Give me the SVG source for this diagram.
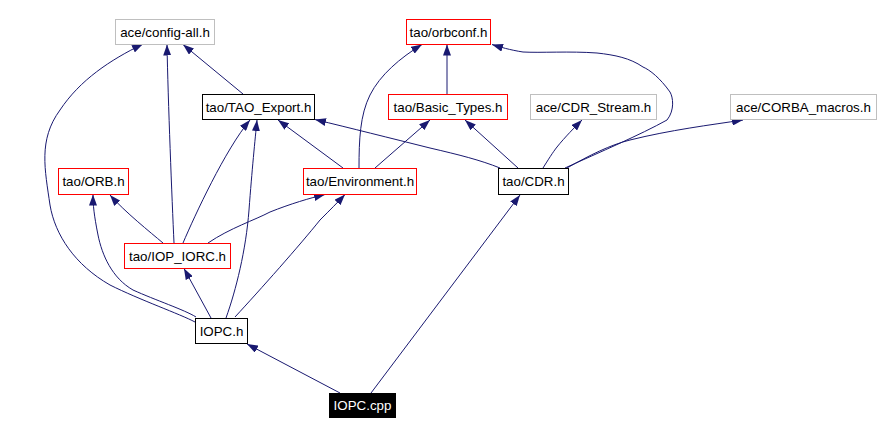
<svg xmlns="http://www.w3.org/2000/svg" width="883" height="435" viewBox="0 0 883 435">
<defs>
<marker id="arr" markerUnits="userSpaceOnUse" markerWidth="11" markerHeight="8" refX="11" refY="4" orient="auto">
<path d="M0,0 L11,4 L0,8 z" fill="#191970"/>
</marker>
<style>
.n rect{fill:#fff;stroke-width:1}
.n text{font-family:"Liberation Sans",Arial,sans-serif;font-size:13.33px;text-anchor:middle;fill:#000}
.blk rect{stroke:#000}
.red rect{stroke:#ff0000}
.gry rect{stroke:#bfbfbf}
#e path{fill:none;stroke:#191970;stroke-width:1;marker-end:url(#arr)}
</style>
</defs>
<rect width="883" height="435" fill="#fff"/>
<g id="e">
<path d="M340,393 L247,344"/>
<path d="M371,393 L520,195"/>
<path d="M211,318 L184,268.5"/>
<path d="M195,322 C180,314 140,300 110,285 C75,265 55,235 50,205 C45,170 38,140 60,110 C80,80 110,60 143,44"/>
<path d="M196,317 C185,310 155,300 133,290 C112,278 102,255 98,235 C94,215 93,205 93,194.5"/>
<path d="M226,318 C236,290 246,250 249,210 C252,170 255,140 257,120"/>
<path d="M235,317 C260,290 300,245 320,220 C330,210 338,202 345,194.5"/>
<path d="M163,243 C150,232 125,212 110,195"/>
<path d="M174,243 C172,200 168,100 167,44.5"/>
<path d="M183,243 C195,215 225,150 250,120"/>
<path d="M208,243 C230,228 255,220 270,212 C290,204 310,198 325,194.5"/>
<path d="M243,94 L183,44.5"/>
<path d="M343,168 L278,120"/>
<path d="M359,168 C359,140 360,115 370,95 C380,75 400,58 422,44.5"/>
<path d="M375,168 L430,120"/>
<path d="M447,94 L447,44.5"/>
<path d="M500,168 C480,160 460,155 430,148 C390,138 350,128 315,119.5"/>
<path d="M518,168 L465,120"/>
<path d="M543,168 C548,160 553,152 557,147 C565,137 575,127 582,120"/>
<path d="M565,168 C600,152 640,135 667,120 C675,110 673,97 670,92 C660,78 650,70 643,67 C630,58 615,55 597,53 C570,51 540,53 523,52 C510,50 500,47 492,44.5"/>
<path d="M567,168 C590,155 610,145 630,140 C670,130 710,125 743,120"/>
</g>
<g id="n_config_all" class="n gry"><rect x="115.5" y="19.5" width="99" height="25"/><text x="165" y="36.5">ace/config-all.h</text></g>
<g id="n_orbconf" class="n red"><rect x="406.5" y="19.5" width="84" height="25"/><text x="448.5" y="36.5">tao/orbconf.h</text></g>
<g id="n_tao_export" class="n blk"><rect x="202.5" y="94.5" width="112" height="25"/><text x="258.5" y="111.5">tao/TAO_Export.h</text></g>
<g id="n_basic_types" class="n red"><rect x="388.5" y="94.5" width="119" height="25"/><text x="448" y="111.5">tao/Basic_Types.h</text></g>
<g id="n_cdr_stream" class="n gry"><rect x="530.5" y="94.5" width="126" height="25"/><text x="593.5" y="111.5">ace/CDR_Stream.h</text></g>
<g id="n_corba_macros" class="n gry"><rect x="730.5" y="94.5" width="146" height="25"/><text x="803.5" y="111.5">ace/CORBA_macros.h</text></g>
<g id="n_orb" class="n red"><rect x="58.5" y="168.5" width="70" height="26"/><text x="93.5" y="186">tao/ORB.h</text></g>
<g id="n_environment" class="n red"><rect x="303.5" y="168.5" width="113" height="26"/><text x="360" y="186">tao/Environment.h</text></g>
<g id="n_cdr" class="n blk"><rect x="498.5" y="168.5" width="70" height="26"/><text x="533.5" y="186">tao/CDR.h</text></g>
<g id="n_iop_iorc" class="n red"><rect x="124.5" y="243.5" width="106" height="25"/><text x="177.5" y="260.5">tao/IOP_IORC.h</text></g>
<g id="n_iopc_h" class="n blk"><rect x="195.5" y="318.5" width="52" height="25"/><text x="221.5" y="335.5">IOPC.h</text></g>
<g id="n_iopc_cpp" class="n blk"><rect x="329.5" y="393.5" width="66" height="24" style="fill:#000"/><text x="362.5" y="410" style="fill:#fff">IOPC.cpp</text></g>
</svg>
